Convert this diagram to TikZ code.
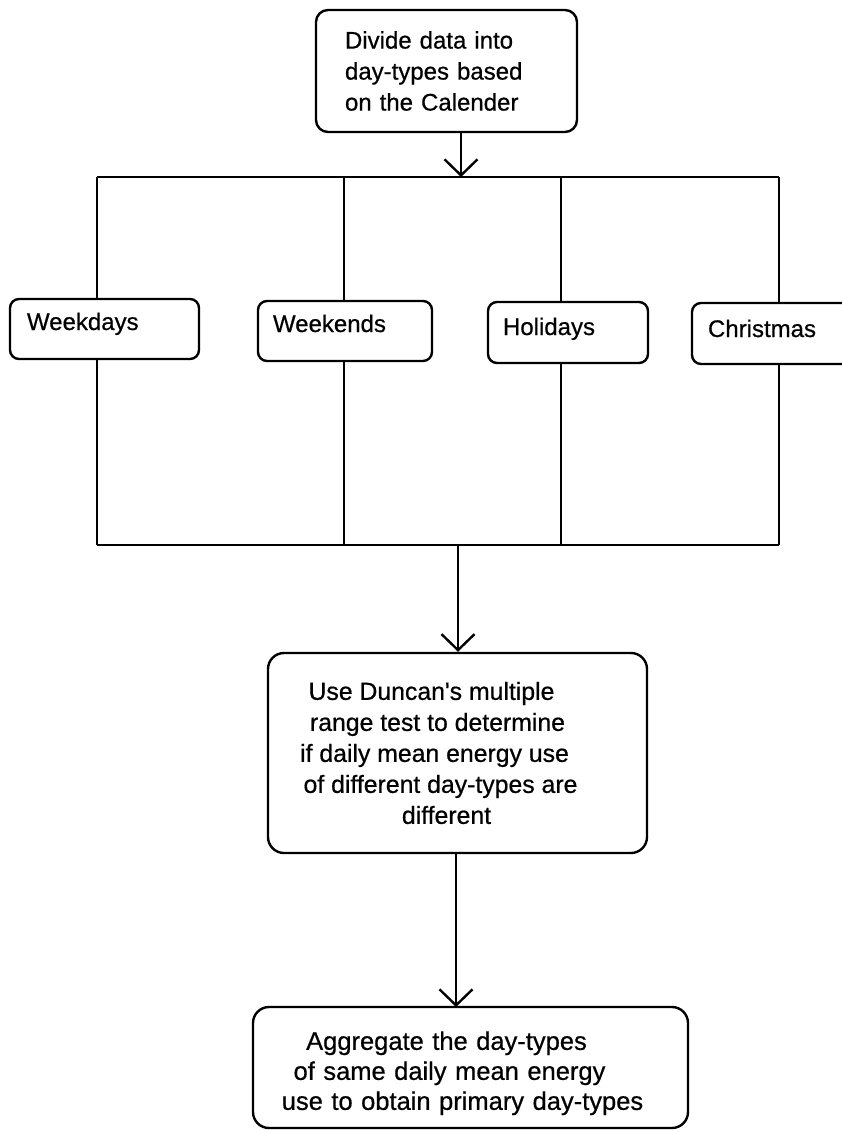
\documentclass[tikz,border=0pt]{standalone}
\usepackage{fontspec}
\setmainfont{Liberation Sans}[Ligatures=TeXOff,FakeBold=0.6]
\usetikzlibrary{arrows.meta}
\begin{document}
\begin{tikzpicture}[x=1pt,y=-1pt,
  every node/.style={font=\fontsize{24}{31}\selectfont},
  wire/.style={line width=2.4pt},
  arr/.style={line width=2.4pt,-{Straight Barb[length=16pt,width=33pt,line width=2.4pt]}},
  daybox/.style={draw,line width=2.4pt,rounded corners=9pt,align=left,
    inner ysep=0pt,text height=31pt,text depth=29pt},
  bigbox/.style={draw,line width=2.4pt,rounded corners=16pt,align=center}]
\useasboundingbox (0,0) rectangle (841,1131);

% first step
\node[draw,line width=2.4pt,rounded corners=12pt,align=left,inner xsep=29pt,
  text width=203pt,minimum height=122pt] (top) at (446.5,71)
  {\rule{0pt}{14pt}Divide data into\\day-types based\\on the Calender};

% distribution bus and its junctions
\coordinate (t1) at (97,177);
\coordinate (t2) at (344,177);
\coordinate (t3) at (561,177);
\coordinate (t4) at (779,177);
\coordinate (ta) at (461,177);
\coordinate (u1) at (97,545);
\coordinate (u2) at (344,545);
\coordinate (u3) at (561,545);
\coordinate (u4) at (779,545);
\coordinate (ua) at (458,545);

% day-type boxes
\node[daybox,inner xsep=17pt,text width=155pt] (wd) at (104.5,329) {Weekdays};
\node[daybox,inner xsep=15pt,text width=144pt] (we) at (345,331) {Weekends};
\node[daybox,inner xsep=15pt,text width=130pt,text height=33pt,text depth=28pt] (ho) at (568,332.5) {Holidays};
\node[daybox,inner xsep=16pt,text width=180pt,text height=34pt,text depth=27pt] (ch) at (798,333.5) {Christmas};

% test and aggregation steps
\node[bigbox,minimum width=379pt,minimum height=200pt,
  font=\fontsize{24.8}{31}\selectfont] (dun) at (457.5,753)
  {\hspace*{-52pt}Use Duncan's multiple\\\hspace*{-40pt}range test to determine\\
   \hspace*{-46pt}if daily mean energy use\\\hspace*{-34pt}of different day-types are\\
   \hspace*{-22pt}different};
\node[bigbox,minimum width=435pt,minimum height=121pt,text width=405pt,
  font=\fontsize{25.5}{30}\selectfont] (fin) at (470.5,1067.5)
  {\rule{0pt}{30pt}\hspace*{-48pt}Aggregate the day-types\\\hspace*{-42pt}of same daily mean energy\\
   \hspace*{-16pt}use to obtain primary day-types};
\coordinate (fa) at (456,1007);

% connectors
\draw[arr] (top.south -| ta) -- (ta);
\draw[wire] (t1) -- (t4);
\draw[wire] (u1) -- (u4);
\draw[wire] (t1) -- (t1 |- wd.north);
\draw[wire] (t2) -- (t2 |- we.north);
\draw[wire] (t3) -- (t3 |- ho.north);
\draw[wire] (t4) -- (t4 |- ch.north);
\draw[wire] (u1 |- wd.south) -- (u1);
\draw[wire] (u2 |- we.south) -- (u2);
\draw[wire] (u3 |- ho.south) -- (u3);
\draw[wire] (u4 |- ch.south) -- (u4);
\draw[arr] (ua) -- (ua |- dun.north);
\draw[arr] (dun.south -| fa) -- (fa);
\end{tikzpicture}
\end{document}
